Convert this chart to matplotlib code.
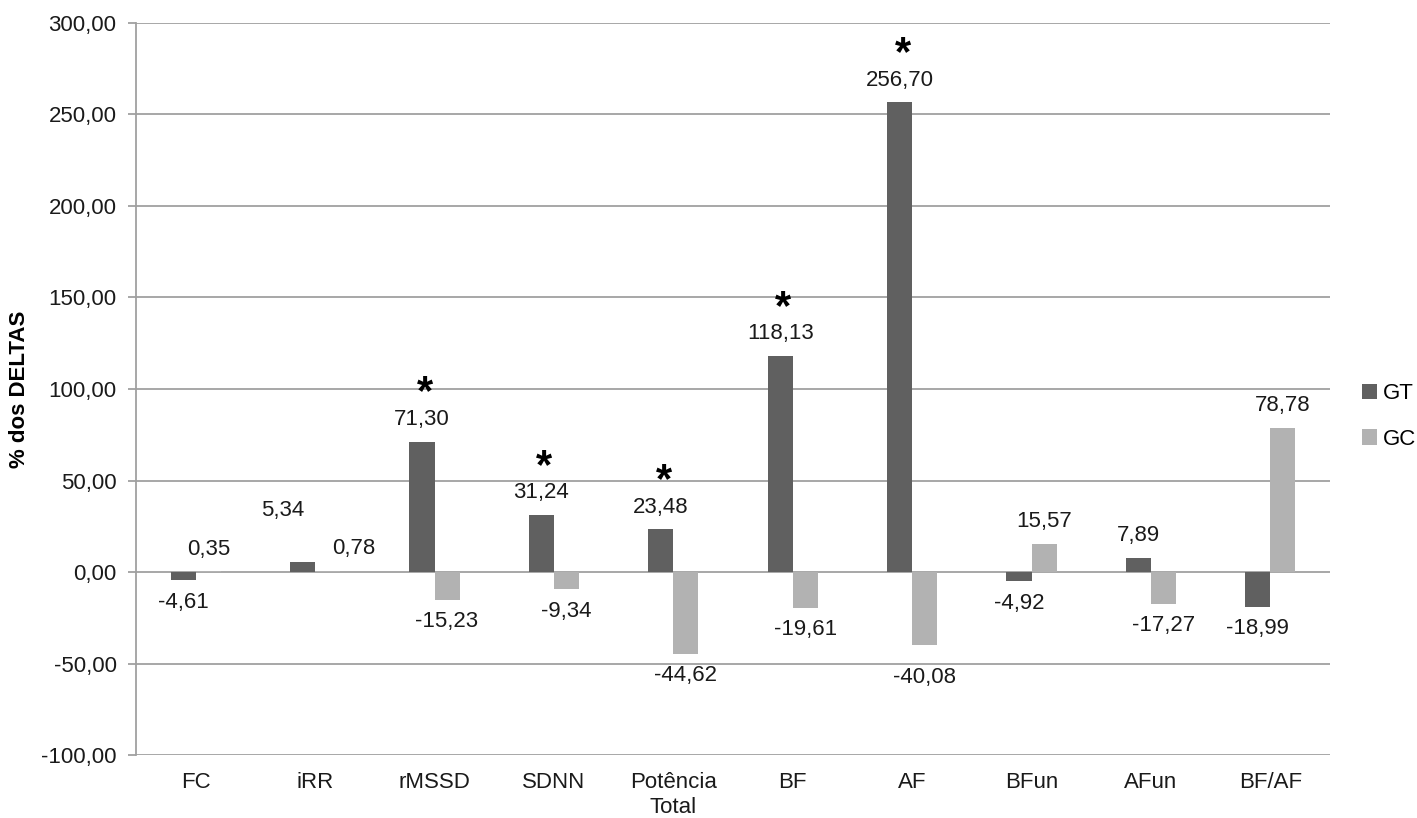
import numpy as np
import matplotlib
matplotlib.use("Agg")
import matplotlib.pyplot as plt

plt.rcParams["font.family"] = ["Liberation Sans", "DejaVu Sans"]
plt.rcParams["mathtext.fontset"] = "custom"
plt.rcParams["mathtext.bf"] = "Liberation Sans:bold"
plt.rcParams["mathtext.rm"] = "Liberation Sans"

# data
categories = ["FC", "iRR", "rMSSD", "SDNN", "Potência\nTotal", "BF", "AF", "BFun", "AFun", "BF/AF"]
gt_values = [-4.61, 5.34, 71.30, 31.24, 23.48, 118.13, 256.70, -4.92, 7.89, -18.99]
gc_values = [0.35, 0.78, -15.23, -9.34, -44.62, -19.61, -40.08, 15.57, -17.27, 78.78]
gt_signif = [False, False, True, True, True, True, True, False, False, False]
y_ticks = [-100, -50, 0, 50, 100, 150, 200, 250, 300]

GT_COLOR = "#606060"
GC_COLOR = "#b2b2b2"
GRID = "#a0a0a0"

# extra label nudges (pixels) where the labels were shifted in the original
gt_nudge = {1: (-20, 30)}
gc_nudge = {1: (26, 0), 6: (0, 10)}


def fmt(v):
    return f"{v:.2f}".replace(".", ",")


fig = plt.figure(figsize=(14.17, 8.18), dpi=100)
ax = fig.add_axes([0.096, 0.077, 0.8426, 0.8949])

x = np.arange(len(categories))
w = 0.21
ax.bar(x - w / 2, gt_values, w, color=GT_COLOR, label="GT", zorder=3)
ax.bar(x + w / 2, gc_values, w, color=GC_COLOR, label="GC", zorder=3)

px = 0.72  # points per pixel at dpi 100


def put_label(xc, v, nudge):
    dx, dy = nudge
    off = 22 + dy
    ax.annotate(fmt(v), (xc, v), xytext=(dx * px, (off if v >= 0 else -off) * px),
                textcoords="offset points", ha="center", va="center",
                fontsize=16, color="#1a1a1a", zorder=4)


for i in range(len(categories)):
    put_label(x[i] - w / 2, gt_values[i], gt_nudge.get(i, (0, 0)))
    put_label(x[i] + w / 2, gc_values[i], gc_nudge.get(i, (0, 0)))
    if gt_signif[i]:
        ax.annotate(r"$\mathbf{*}$", (x[i] - w / 2, gt_values[i]), xytext=(3 * px, 49 * px),
                    textcoords="offset points", ha="center", va="center",
                    fontsize=30, color="black", zorder=4)

ax.set_xlim(-0.5, len(categories) - 0.5)
ax.set_ylim(-100, 300)
ax.set_yticks(y_ticks)
ax.set_yticklabels([fmt(t) for t in y_ticks], fontsize=16, color="#1a1a1a")
ax.set_xticks(x)
ax.set_xticklabels(categories, fontsize=16, color="#1a1a1a", linespacing=1.3)
ax.tick_params(axis="x", length=0, pad=12)
ax.tick_params(axis="y", length=6, width=1.3, color=GRID, pad=8)

ax.yaxis.grid(True, color=GRID, linewidth=1.3, zorder=0)
for s in ["top", "right", "bottom"]:
    ax.spines[s].set_visible(False)
ax.spines["left"].set_color(GRID)
ax.spines["left"].set_linewidth(1.3)

ax.set_ylabel("% dos DELTAS", fontsize=16, fontweight="bold", labelpad=8)

fig.legend(loc="center left", bbox_to_anchor=(0.961, 0.491), frameon=False,
           fontsize=16, handlelength=0.7, handleheight=0.7, handletextpad=0.25,
           labelspacing=1.1, borderpad=0, borderaxespad=0)

fig.savefig("out.png", dpi=100)
